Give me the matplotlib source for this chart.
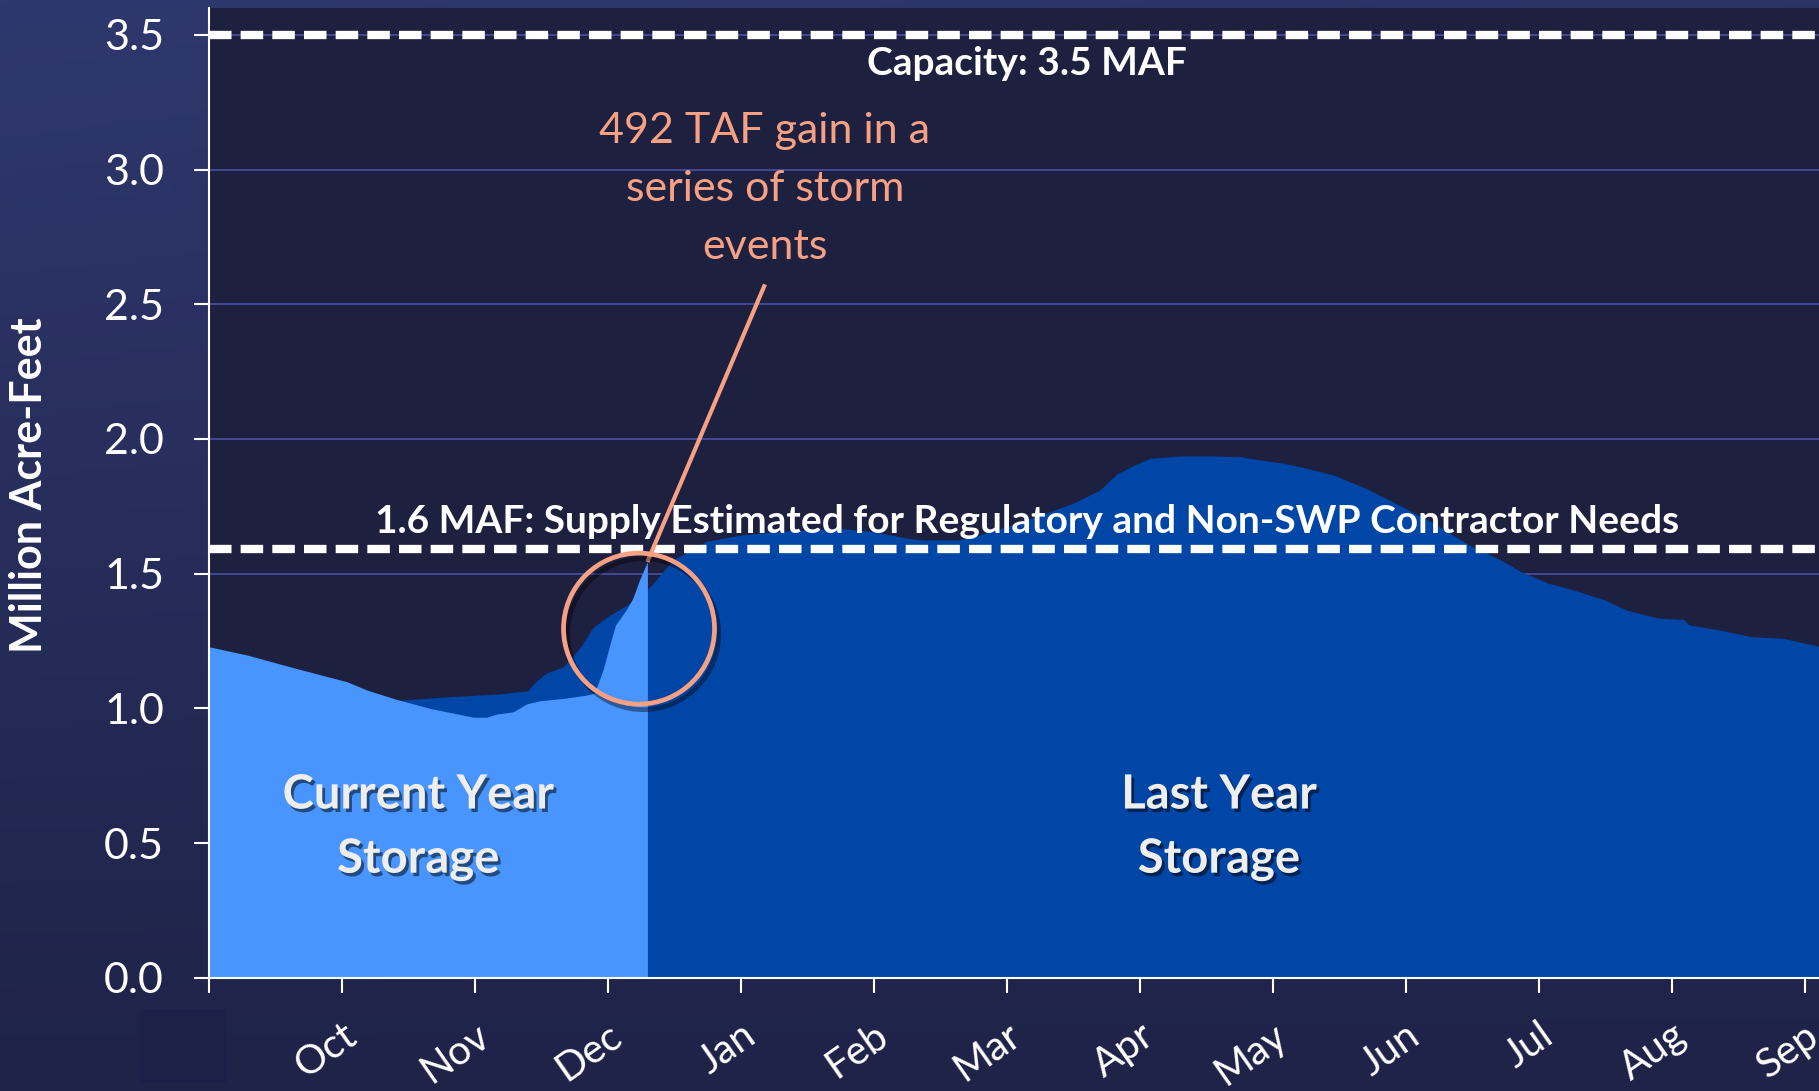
import matplotlib
matplotlib.use("Agg")
import matplotlib.pyplot as plt
import matplotlib.patheffects as pe
from matplotlib.patches import Ellipse, Rectangle
import numpy as np

plt.rcParams["font.family"] = ["Lato", "DejaVu Sans"]

# month index: 0 = start of Oct, 12 = end of Sep
month_labels = ["", "Oct", "Nov", "Dec", "Jan", "Feb", "Mar", "Apr",
                "May", "Jun", "Jul", "Aug", "Sep"]
y_ticks = [0.0, 0.5, 1.0, 1.5, 2.0, 2.5, 3.0, 3.5]

# last water year storage (MAF)
last_x = [0.0, 0.5, 1.0, 1.44, 1.8, 2.17, 2.40, 2.46, 2.54, 2.67, 2.80, 2.89,
          3.0, 3.15, 3.30, 3.49, 3.74, 4.0, 4.25, 4.50, 4.75, 5.0, 5.25, 5.37,
          5.63, 5.75, 6.0, 6.25, 6.50, 6.70, 6.83, 6.96, 7.08, 7.30, 7.55,
          7.76, 7.91, 8.08, 8.21, 8.46, 8.70, 8.93, 9.21, 9.48, 9.72, 9.87,
          10.07, 10.26, 10.5, 10.66, 10.90, 11.09, 11.13, 11.37, 11.60,
          11.84, 12.11]
last_y = [1.15, 1.10, 1.06, 1.03, 1.043, 1.053, 1.065, 1.099, 1.131, 1.155,
          1.229, 1.30, 1.34, 1.385, 1.44, 1.55, 1.62, 1.643, 1.656, 1.662,
          1.668, 1.656, 1.632, 1.625, 1.625, 1.637, 1.674, 1.717, 1.761,
          1.81, 1.87, 1.903, 1.928, 1.937, 1.937, 1.934, 1.922, 1.91, 1.897,
          1.866, 1.817, 1.76, 1.688, 1.606, 1.55, 1.507, 1.465, 1.44, 1.402,
          1.365, 1.335, 1.33, 1.31, 1.29, 1.266, 1.26, 1.23]

# current water year storage (MAF), through mid-December
cur_x = [0.0, 0.29, 0.66, 1.04, 1.19, 1.415, 1.665, 1.99, 2.09, 2.17, 2.29,
         2.39, 2.49, 2.67, 2.84, 2.90, 2.92, 2.97, 3.02, 3.06, 3.14, 3.19,
         3.24, 3.30]
cur_y = [1.229, 1.198, 1.148, 1.099, 1.068, 1.033, 1.0, 0.967, 0.967, 0.979,
         0.987, 1.016, 1.028, 1.037, 1.049, 1.056, 1.08, 1.148, 1.241, 1.309,
         1.365, 1.408, 1.476, 1.544]

capacity = 3.5
supply_need = 1.59

W, H = 1819, 1091
fig = plt.figure(figsize=(W / 100, H / 100), dpi=100)

# gradient background
bg = fig.add_axes([0, 0, 1, 1], zorder=-10)
gy, gx = np.mgrid[0:1:200j, 0:1:200j]
t = np.clip(0.75 * gy + 0.25 * (1 - gx) * gy, 0, 1)
top = np.array([0x2f, 0x38, 0x6e]) / 255
bot = np.array([0x1f, 0x23, 0x48]) / 255
img = top[None, None, :] * t[..., None] + bot[None, None, :] * (1 - t[..., None])
bg.imshow(img, origin="lower", extent=[0, 1, 0, 1], aspect="auto")
bg.set_axis_off()
fig.patches.append(Rectangle((141 / W, 1 - 1081 / H), 84 / W, 71 / H,
                             transform=fig.transFigure, facecolor="#1e2147",
                             edgecolor="#1b1e4c", linewidth=0.8))

ax = fig.add_axes([208.5 / W, 1 - 977.7 / H, 1 - 208.5 / W, (977.7 - 8) / H])
ax.set_facecolor("#1e2040")
ax.set_xlim(0, 12.109)
ax.set_ylim(0, 3.6)

ax.yaxis.grid(True, color="#4a51a6", linewidth=1.2, zorder=0)
ax.set_axisbelow(True)

ax.fill_between(last_x, 0, last_y, color="#0046a6", linewidth=0, zorder=2)
ax.fill_between(cur_x, 0, cur_y, color="#4895ff", linewidth=0, zorder=3)

for yv in (capacity, supply_need):
    ax.axhline(yv, color="white", linewidth=6, dashes=(2.7, 1.1), zorder=4)

ax.text(6.154, 3.393, "Capacity: 3.5 MAF", color="white", fontsize=28,
        fontweight="bold", ha="center", va="center", zorder=6)
ax.text(6.154, 1.692,
        "1.6 MAF: Supply Estimated for Regulatory and Non-SWP Contractor Needs",
        color="white", fontsize=28, fontweight="bold", ha="center",
        va="center", zorder=6)

salmon = "#f7a184"
ax.text(4.184, 2.928, "492 TAF gain in a\nseries of storm\nevents",
        color=salmon, fontsize=31, ha="center", va="center",
        linespacing=1.63, zorder=6)
ax.plot([4.184, 3.30], [2.574, 1.544], color=salmon, linewidth=3,
        solid_capstyle="butt", zorder=6)
ring = Ellipse((3.237, 1.296), 2 * 75.5 / 133, 2 * 75.5 / 269.4,
               facecolor="none", edgecolor=salmon, linewidth=3.4, zorder=6)
ring.set_path_effects([pe.SimpleLineShadow(offset=(3, -4), shadow_color="black",
                                           alpha=0.4), pe.Normal()])
ax.add_patch(ring)

shadow = [pe.SimplePatchShadow(offset=(2, -2.5), shadow_rgbFace="black", alpha=0.5),
          pe.Normal()]
ax.text(1.578, 0.56, "Current Year\nStorage", color="#eeeeee", fontsize=34,
        fontweight="bold", ha="center", va="center", linespacing=1.56,
        zorder=6, path_effects=shadow)
ax.text(7.598, 0.56, "Last Year\nStorage", color="#eeeeee", fontsize=34,
        fontweight="bold", ha="center", va="center", linespacing=1.56,
        zorder=6, path_effects=shadow)

for side in ("top", "right"):
    ax.spines[side].set_visible(False)
for side in ("left", "bottom"):
    ax.spines[side].set_color("white")
    ax.spines[side].set_linewidth(1.5)
    ax.spines[side].set_zorder(7)

ax.set_yticks(y_ticks)
ax.set_yticklabels([f"{v:.1f}" for v in y_ticks])
ax.set_xticks(range(len(month_labels)))
ax.set_xticklabels(month_labels, rotation=35, ha="right", va="top",
                   rotation_mode="anchor")
ax.tick_params(axis="y", colors="white", labelsize=31, length=11, width=1.5,
               pad=21)
ax.tick_params(axis="x", colors="white", labelsize=29, length=11, width=1.5,
               pad=17)

fig.text(29 / W, 1 - 485 / H, "Million Acre-Feet", color="white", fontsize=31,
         fontweight="bold", rotation=90, ha="center", va="center")

fig.savefig("out.png", dpi=100)
